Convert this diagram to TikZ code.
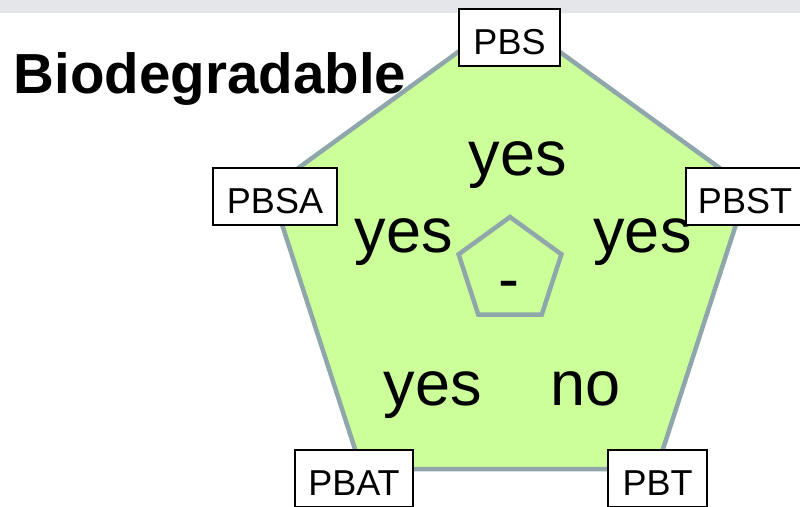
\documentclass[tikz,border=0pt]{standalone}
\usepackage{fontspec}
\setmainfont{Liberation Sans}
\definecolor{topbar}{RGB}{229,230,233}
\definecolor{pentfill}{RGB}{204,255,153}
\definecolor{pentline}{RGB}{143,166,170}
\begin{document}
\begin{tikzpicture}[x=1pt,y=-1pt,
  labelbox/.style={draw=black,line width=1.5pt,fill=white,inner xsep=0pt,inner ysep=0pt,
    text height=46pt,text depth=11pt,anchor=north,font=\fontsize{36}{40}\selectfont},
  bigword/.style={inner sep=0pt,anchor=base,font=\fontsize{63}{70}\selectfont},
  pentedge/.style={draw=pentline,line width=4.5pt}]
\useasboundingbox (0,0) rectangle (800,506);
\fill[topbar] (0,0) rectangle (800,13);
% outer pentagon
\coordinate (T) at (509,15);
\coordinate (L) at (270.3,188.4);
\coordinate (R) at (747.7,188.4);
\coordinate (BL) at (361.5,469.1);
\coordinate (BR) at (656.5,469.1);
\filldraw[pentedge,fill=pentfill] (T) -- (R) -- (BR) -- (BL) -- (L) -- cycle;
% inner pentagon
\coordinate (t) at (510,217);
\coordinate (l) at (458.6,254.3);
\coordinate (r) at (561.4,254.3);
\coordinate (bl) at (478.3,314.7);
\coordinate (br) at (541.7,314.7);
\draw[pentedge] (t) -- (r) -- (br) -- (bl) -- (l) -- cycle;
% title
\node[inner sep=0pt,anchor=base west,font=\bfseries\fontsize{56.5}{60}\selectfont] (title) at (13.5,93) {Biodegradable};
% words
\node[bigword] (ytop) at (518,175) {yes};
\node[bigword] (yleft) at (404,252) {yes};
\node[bigword] (yright) at (642.5,252) {yes};
\node[bigword] (ybot) at (433,405) {yes};
\node[bigword] (nbot) at (585.5,405) {no};
\node[bigword] (dash) at (509,300) {-};
% labels
\node[labelbox,minimum width=101pt] (pbs) at (509.5,8) {PBS};
\node[labelbox,minimum width=124pt] (pbsa) at (275,167) {PBSA};
\node[labelbox,minimum width=118pt] (pbst) at (745,167) {PBST};
\node[labelbox,minimum width=118pt] (pbat) at (354,449) {PBAT};
\node[labelbox,minimum width=99pt] (pbt) at (657.5,449) {PBT};
\end{tikzpicture}
\end{document}
